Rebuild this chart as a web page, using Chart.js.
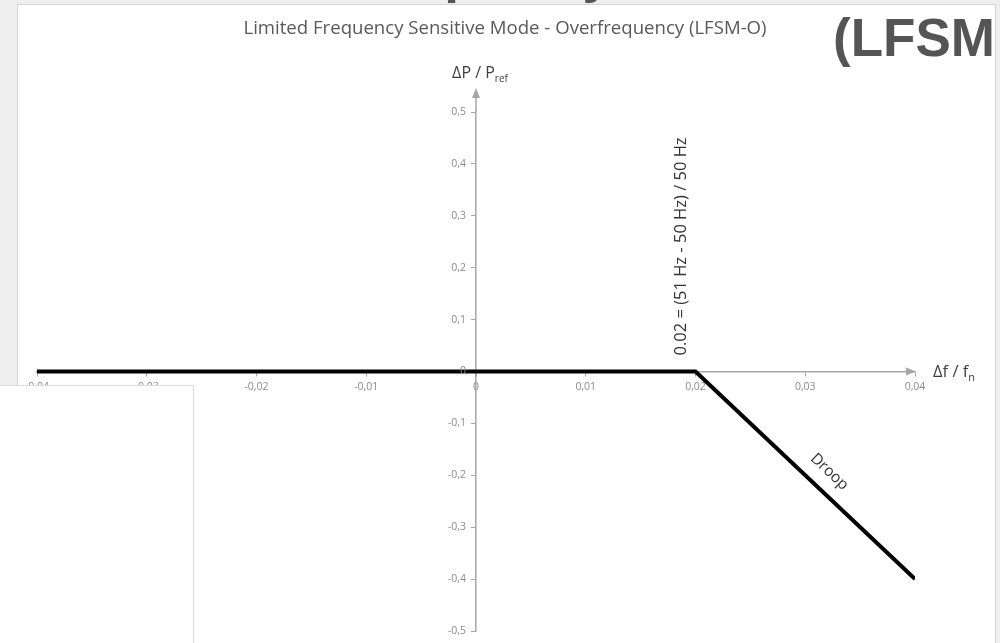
<!DOCTYPE html>
<html>
<head>
<meta charset="utf-8">
<title>LFSM-O</title>
<script src="https://cdn.jsdelivr.net/npm/chart.js@4.4.0/dist/chart.umd.min.js"></script>
<style>
  html, body { margin: 0; padding: 0; }
  body { width: 1000px; height: 643px; overflow: hidden; position: relative; background: #eeeeee; }
  /* bits of the slide around the chart */
  #slideTop { position: absolute; left: 344px; top: -53px; font: bold 53px/1 "Liberation Sans", Arial, sans-serif; color: #555555; white-space: nowrap; }
  #frame { position: absolute; left: 17px; top: 4px; width: 977px; height: 660px; background: #ffffff; border: 1px solid #d6d6d6; }
  #wrap { position: absolute; left: 0; top: 0; width: 1000px; height: 643px; }
  #slideTitle { position: absolute; left: 833px; top: 11px; font: bold 53px/1 "Liberation Sans", Arial, sans-serif; color: #555555; white-space: nowrap; }
  #panel { position: absolute; left: 0; top: 385px; width: 193px; height: 280px; background: #ffffff; border-top: 1px solid #dcdcdc; border-right: 1px solid #dcdcdc; }
</style>
</head>
<body>
<div id="slideTop">Frequency</div>
<div id="frame"></div>
<div id="wrap"><canvas id="lfsmChart"></canvas></div>
<div id="slideTitle">(LFSM</div>
<div id="panel"></div>
<script>
// data
const freqDev = [-0.04, 0.02, 0.04];    // delta f / fn
const powerDev = [0, 0, -0.4];          // delta P / Pref
const xTicks = [-0.04, -0.03, -0.02, -0.01, 0, 0.01, 0.02, 0.03, 0.04];
const yTicks = [-0.5, -0.4, -0.3, -0.2, -0.1, 0, 0.1, 0.2, 0.3, 0.4, 0.5];
const thresholdX = 0.02;
const droopLabelX = 0.031;

const chartTitle = 'Limited Frequency Sensitive Mode - Overfrequency (LFSM-O)';
const thresholdText = '0.02 = (51 Hz - 50 Hz) / 50 Hz';

const axisColor = '#a6a6a6';
const tickColor = '#8c8c8c';
const textColor = '#404040';
const fontName = '"Open Sans", sans-serif';
const tickFontSize = 10.5;

function fmtTick(v, digits) {
  if (Math.abs(v) < 1e-9) return '0';
  return v.toFixed(digits).replace('.', ',');
}

// title, axis names, arrows, y tick labels and the two notes
const overlay = {
  id: 'overlay',
  afterDatasetsDraw(chart) {
    const ctx = chart.ctx;
    const x = chart.scales.x, y = chart.scales.y;
    const x0 = x.getPixelForValue(0);
    const y0 = y.getPixelForValue(0);
    ctx.save();

    // y tick labels, left of the centred axis
    ctx.fillStyle = tickColor;
    ctx.font = tickFontSize + 'px ' + fontName;
    ctx.textAlign = 'right';
    ctx.textBaseline = 'middle';
    y.ticks.forEach(t => {
      ctx.fillText(fmtTick(t.value, 1), x0 - 10, y.getPixelForValue(t.value));
    });

    // y axis goes on past 0,5 and ends in an arrow
    ctx.strokeStyle = axisColor;
    ctx.fillStyle = axisColor;
    ctx.lineWidth = 1.5;
    ctx.beginPath();
    ctx.moveTo(x0, y.top);
    ctx.lineTo(x0, y.top - 16);
    ctx.stroke();
    ctx.beginPath();
    ctx.moveTo(x0, y.top - 24);
    ctx.lineTo(x0 - 4, y.top - 14);
    ctx.lineTo(x0 + 4, y.top - 14);
    ctx.closePath();
    ctx.fill();
    // x axis arrow
    ctx.beginPath();
    ctx.moveTo(x.right + 1, y0);
    ctx.lineTo(x.right - 9, y0 - 4);
    ctx.lineTo(x.right - 9, y0 + 4);
    ctx.closePath();
    ctx.fill();

    // chart title
    ctx.fillStyle = '#595959';
    ctx.font = '18.6px ' + fontName;
    ctx.textAlign = 'center';
    ctx.textBaseline = 'middle';
    ctx.fillText(chartTitle, 505, 29);

    // y axis name with subscript
    ctx.fillStyle = textColor;
    ctx.textAlign = 'left';
    ctx.textBaseline = 'alphabetic';
    ctx.font = '16px ' + fontName;
    const mainW = ctx.measureText('\u0394P / P').width;
    ctx.font = '10px ' + fontName;
    const subW = ctx.measureText('ref').width;
    let sx = x0 + 4 - (mainW + subW) / 2;
    ctx.font = '16px ' + fontName;
    ctx.fillText('\u0394P / P', sx, y.top - 34);
    ctx.font = '10px ' + fontName;
    ctx.fillText('ref', sx + mainW, y.top - 30);

    // x axis name with subscript
    ctx.font = '16.5px ' + fontName;
    const xmW = ctx.measureText('\u0394f / f').width;
    ctx.fillText('\u0394f / f', x.right + 18, y0 + 5);
    ctx.font = '11px ' + fontName;
    ctx.fillText('n', x.right + 18 + xmW, y0 + 9);

    // vertical note at 0.02
    ctx.font = '16.5px ' + fontName;
    ctx.fillStyle = '#333333';
    ctx.save();
    ctx.translate(x.getPixelForValue(thresholdX) - 14, y0 - 16);
    ctx.rotate(-Math.PI / 2);
    ctx.textAlign = 'left';
    ctx.textBaseline = 'middle';
    ctx.fillText(thresholdText, 0, 0);
    ctx.restore();

    // "Droop" along the sloped part
    const p1x = x.getPixelForValue(freqDev[1]), p1y = y.getPixelForValue(powerDev[1]);
    const p2x = x.getPixelForValue(freqDev[2]), p2y = y.getPixelForValue(powerDev[2]);
    const ang = Math.atan2(p2y - p1y, p2x - p1x);
    const ax = x.getPixelForValue(droopLabelX);
    const ay = p1y + (ax - p1x) * Math.tan(ang);
    ctx.save();
    ctx.translate(ax + 19 * Math.sin(ang), ay - 19 * Math.cos(ang));
    ctx.rotate(ang);
    ctx.textAlign = 'center';
    ctx.textBaseline = 'middle';
    ctx.font = '15.5px ' + fontName;
    ctx.fillText('Droop', 0, 0);
    ctx.restore();

    ctx.restore();
  }
};

const lfsmChart = new Chart(document.getElementById('lfsmChart'), {
  type: 'scatter',
  data: {
    datasets: [{
      label: 'LFSM-O',
      data: freqDev.map((f, i) => ({ x: f, y: powerDev[i] })),
      showLine: true,
      borderColor: '#000000',
      borderWidth: 4,
      pointRadius: 0,
      fill: false
    }]
  },
  options: {
    responsive: true,
    maintainAspectRatio: false,
    animation: false,
    layout: { padding: { left: 37, right: 85, top: 112, bottom: 12 } },
    plugins: {
      legend: { display: false },
      title: { display: false },
      tooltip: { enabled: false }
    },
    scales: {
      x: {
        type: 'linear',
        position: { y: 0 },
        min: -0.04,
        max: 0.04,
        afterBuildTicks: s => { s.ticks = xTicks.map(v => ({ value: v })); },
        grid: { drawOnChartArea: false, drawTicks: true, tickLength: 4, color: axisColor, lineWidth: 1 },
        border: { display: true, color: axisColor, width: 1.5 },
        ticks: {
          color: tickColor,
          font: { family: fontName, size: tickFontSize },
          padding: 5,
          maxRotation: 0,
          minRotation: 0,
          autoSkip: false,
          callback: v => fmtTick(v, 2)
        }
      },
      y: {
        type: 'linear',
        position: { x: 0 },
        min: -0.5,
        max: 0.5,
        afterBuildTicks: s => { s.ticks = yTicks.map(v => ({ value: v })); },
        grid: { drawOnChartArea: false, drawTicks: true, tickLength: 4, color: axisColor, lineWidth: 1 },
        border: { display: true, color: axisColor, width: 1.5 },
        ticks: { display: false }
      }
    }
  },
  plugins: [overlay]
});
</script>
</body>
</html>
